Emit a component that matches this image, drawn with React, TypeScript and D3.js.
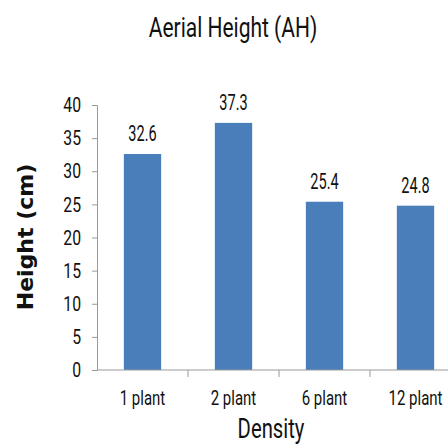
import React, { useEffect, useRef } from 'react'
import * as d3 from 'd3'

const W = 448
const H = 445
const margin = { left: 97, right: -13, top: 105, bottom: 75 }

const categories = ['1 plant', '2 plant', '6 plant', '12 plant']
const heights = [32.6, 37.3, 25.4, 24.8]
const yTicks = [0, 5, 10, 15, 20, 25, 30, 35, 40]

// the original uses a tall condensed face; squeeze Roboto horizontally instead
const FONT = 'Roboto, "Liberation Sans", sans-serif'
const SQ = 0.75

export default function App() {
  const ref = useRef<SVGSVGElement>(null)

  useEffect(() => {
    const svg = d3.select(ref.current)
    svg.selectAll('*').remove()

    const x = d3.scaleBand()
      .domain(categories)
      .range([margin.left, W - margin.right])
      .paddingInner(0.59)
      .paddingOuter(0.295)
    const y = d3.scaleLinear()
      .domain([0, 40])
      .range([H - margin.bottom, margin.top])

    const label = (g, tx, ty, txt, size, sq = SQ) =>
      g.append('text')
        .attr('transform', `translate(${tx},${ty}) scale(${sq},1)`)
        .attr('text-anchor', 'middle')
        .style('font-family', FONT)
        .style('font-size', size + 'px')
        .style('fill', '#111')
        .text(txt)

    // bars
    svg.append('g')
      .selectAll('rect')
      .data(heights)
      .join('rect')
      .attr('x', (_, i) => x(categories[i])!)
      .attr('y', d => y(d))
      .attr('width', x.bandwidth())
      .attr('height', d => y(0) - y(d))
      .attr('fill', '#4a7ebb')

    // value labels
    const vals = svg.append('g')
    heights.forEach((d, i) => {
      label(vals, x(categories[i])! + x.bandwidth() / 2, y(d) - 13, d.toFixed(1), 22, 0.66)
    })

    // y axis
    const yAxis = svg.append('g')
      .attr('transform', `translate(${margin.left},0)`)
      .call(d3.axisLeft(y).tickValues(yTicks).tickSize(5))
    yAxis.select('.domain').attr('stroke', '#999')
    yAxis.selectAll('.tick line').attr('stroke', '#999')
    yAxis.selectAll('.tick text')
      .attr('x', -16 / SQ)
      .attr('transform', `scale(${SQ},1)`)
      .style('font-family', FONT)
      .style('font-size', '21px')
      .style('fill', '#111')

    // x axis
    const step = x.step()
    const xAxis = svg.append('g')
      .attr('transform', `translate(0,${y(0)})`)
    xAxis.append('line')
      .attr('x1', margin.left).attr('x2', W)
      .attr('stroke', '#999')
    xAxis.selectAll('line.sep')
      .data(categories.slice(1))
      .join('line')
      .attr('class', 'sep')
      .attr('x1', d => x(d)! - (step - x.bandwidth()) / 2)
      .attr('x2', d => x(d)! - (step - x.bandwidth()) / 2)
      .attr('y1', 0).attr('y2', 7)
      .attr('stroke', '#999')
    categories.forEach(c => {
      label(xAxis, x(c)! + x.bandwidth() / 2, 35, c, 20)
    })

    // titles
    label(svg, 233, 37, 'Aerial Height (AH)', 28)
    label(svg, 271, 438, 'Density', 27)

    svg.append('text')
      .attr('transform', `translate(33,${237}) rotate(-90)`)
      .attr('text-anchor', 'middle')
      .style('font-family', '"DejaVu Sans", sans-serif')
      .style('font-size', '22px')
      .style('font-weight', 600)
      .style('fill', '#111')
      .text('Height (cm)')
  }, [])

  return (
    <svg ref={ref} width={W} height={H}
      style={{ position: 'absolute', left: 0, top: 0, background: '#fff' }} />
  )
}
